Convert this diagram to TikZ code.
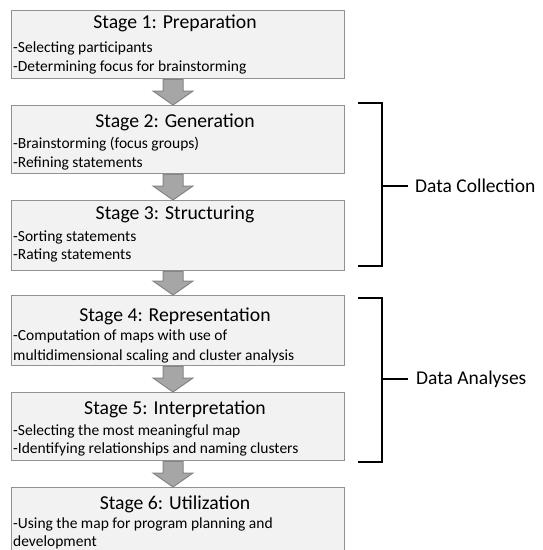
\documentclass[tikz,border=0pt]{standalone}
\usepackage{fontspec}
\setmainfont{Carlito}
\usetikzlibrary{calc}
\definecolor{boxfill}{HTML}{F2F2F2}
\definecolor{boxline}{HTML}{929292}
\definecolor{arrfill}{HTML}{A6A6A6}
\definecolor{arrline}{HTML}{858585}
\begin{document}
\begin{tikzpicture}[x=1pt,y=-1pt,
  stagebox/.style={draw=boxline, line width=1.4pt, fill=boxfill, inner sep=0pt, anchor=north west, minimum width=333pt},
  titletext/.style={font=\fontsize{19.7}{22}\selectfont, inner sep=0pt, anchor=base},
  bodytext/.style={font=\fontsize{15.5}{17}\selectfont, inner sep=0pt, anchor=base west},
  blockarr/.style={draw=arrline, line width=1pt, fill=arrfill, line join=miter},
  brack/.style={draw=black, line width=1.5pt},
  sidetext/.style={font=\fontsize{19.5}{22}\selectfont, inner sep=0pt, anchor=west}]
\clip (0,0) rectangle (542,550);
\fill[white] (0,0) rectangle (542,550);

% boxes
\node[stagebox, minimum height=68pt] (b1) at (11,10) {};
\node[stagebox, minimum height=68pt] (b2) at (11,105) {};
\node[stagebox, minimum height=70pt] (b3) at (11,200) {};
\node[stagebox, minimum height=70pt] (b4) at (11,295) {};
\node[stagebox, minimum height=68pt] (b5) at (11,392) {};
\node[stagebox, minimum height=75pt] (b6) at (11,487) {};

% titles
\node[titletext] (t1) at (175,28) {Stage 1: Preparation};
\node[titletext] (t2) at (175,127) {Stage 2: Generation};
\node[titletext] (t3) at (175,219) {Stage 3: Structuring};
\node[titletext] (t4) at (175,321) {Stage 4: Representation};
\node[titletext] (t5) at (175,414) {Stage 5: Interpretation};
\node[titletext] (t6) at (175,509) {Stage 6: Utilization};

% body lines
\node[bodytext] (l11) at (13,52) {-Selecting participants};
\node[bodytext] (l12) at (13,71) {-Determining focus for brainstorming};
\node[bodytext] (l21) at (13,148) {-Brainstorming (focus groups)};
\node[bodytext] (l22) at (13,167) {-Refining statements};
\node[bodytext] (l31) at (13,241) {-Sorting statements};
\node[bodytext] (l32) at (13,259) {-Rating statements};
\node[bodytext] (l41) at (13,340) {-Computation of maps with use of};
\node[bodytext] (l42) at (13,360) {multidimensional scaling and cluster analysis};
\node[bodytext] (l51) at (13,435) {-Selecting the most meaningful map};
\node[bodytext] (l52) at (13,453) {-Identifying relationships and naming clusters};
\node[bodytext] (l61) at (13,528) {-Using the map for program planning and};
\node[bodytext] (l62) at (13,546) {development};

% block arrows between boxes
\foreach \a/\b in {b1/b2,b2/b3,b3/b4,b4/b5,b5/b6}{
  \draw[blockarr] let \p1=(\a.south), \p2=(\b.north) in
    (163pt,\y1) -- (183pt,\y1) -- (183pt,\y2+14pt) -- (193pt,\y2+14pt)
    -- (173pt,\y2) -- (153pt,\y2+14pt) -- (163pt,\y2+14pt) -- cycle;
}

% brackets
\coordinate (c1a) at (358,103);
\coordinate (c1b) at (382,103);
\coordinate (c1c) at (382,266);
\coordinate (c1d) at (358,266);
\coordinate (c1m) at (382,186);
\coordinate (c1e) at (408,186);
\draw[brack] (c1a) -- (c1b) -- (c1c) -- (c1d);
\draw[brack] (c1m) -- (c1e);
\node[sidetext] (dc) at (415,186) {Data Collection};

\coordinate (c2a) at (358,298);
\coordinate (c2b) at (382,298);
\coordinate (c2c) at (382,462);
\coordinate (c2d) at (358,462);
\coordinate (c2m) at (382,379);
\coordinate (c2e) at (408,379);
\draw[brack] (c2a) -- (c2b) -- (c2c) -- (c2d);
\draw[brack] (c2m) -- (c2e);
\node[sidetext] (da) at (416,379) {Data Analyses};
\end{tikzpicture}
\end{document}
